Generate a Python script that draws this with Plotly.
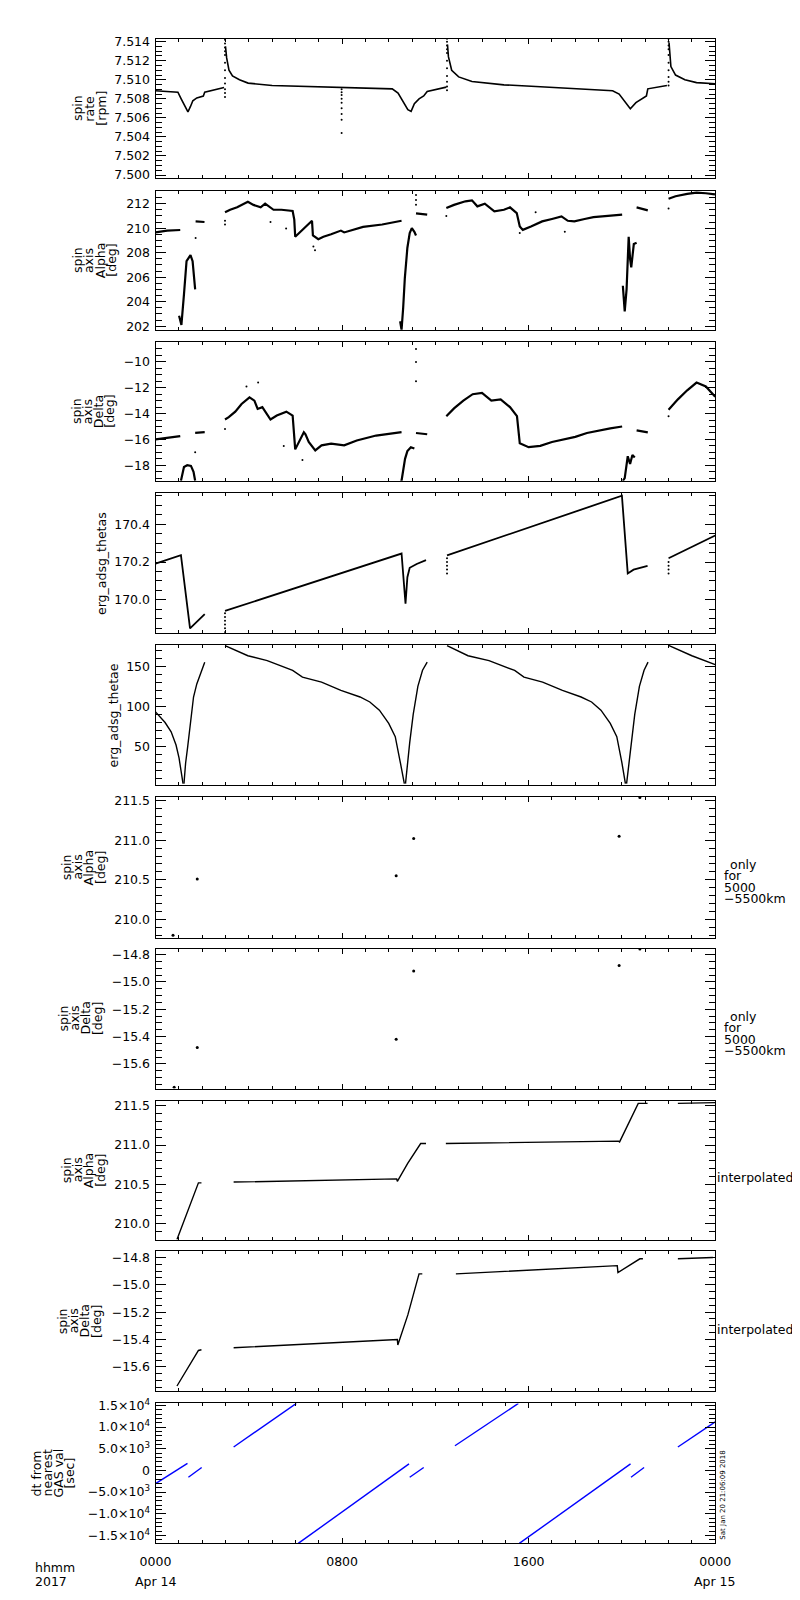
import plotly.graph_objects as go

# ---------------- data (hours since 2017-04-14 00:00 UT) ----------------
# Panel 1: spin rate [rpm]
rate_hours = [
    [0, 0.96, 1.1, 1.25, 1.39, 1.5, 1.6, 1.77, 2.05, 2.11, 2.5, 2.94],
    [3.0, 3.05, 3.15, 3.3, 3.6, 3.97, 5.0, 6.5, 8.0, 9.5, 10.15, 10.4, 10.6, 10.82, 10.96, 11.1, 11.3, 11.5, 11.65, 12.0, 12.47],
    [12.52, 12.56, 12.7, 13.0, 13.57, 14.94, 16.31, 17.69, 19.0, 19.6, 19.88, 20.1, 20.36, 20.6, 20.97, 21.05, 21.11, 21.5, 21.93],
    [22.02, 22.1, 22.3, 22.7, 23.2, 24.0],
]
rate_values = [
    [7.50885, 7.5087, 7.5080, 7.5072, 7.50662, 7.5072, 7.5078, 7.5081, 7.5083, 7.5087, 7.5089, 7.50919],
    [7.5135, 7.5123, 7.5110, 7.5104, 7.5100, 7.50965, 7.5094, 7.50932, 7.5092, 7.50912, 7.50905, 7.5086, 7.5078, 7.50686, 7.50668, 7.5075, 7.5080, 7.5083, 7.50878, 7.5090, 7.50923],
    [7.5137, 7.51243, 7.5110, 7.5103, 7.50982, 7.50947, 7.5093, 7.50912, 7.5090, 7.50885, 7.5085, 7.5078, 7.50696, 7.5076, 7.50815, 7.5083, 7.50905, 7.5092, 7.5094],
    [7.5139, 7.51139, 7.5105, 7.5100, 7.5097, 7.50958],
]
rate_dot_hours = [2.98] * 12 + [7.98] * 9 + [12.5] * 11 + [22.0] * 10
rate_dot_values = [7.5142, 7.5138, 7.5134, 7.5130, 7.5126, 7.5118, 7.5110, 7.5102, 7.5096, 7.5090, 7.5086, 7.5082,
                   7.5090, 7.5087, 7.5084, 7.5080, 7.5076, 7.5070, 7.5064, 7.5058, 7.50442,
                   7.5143, 7.5140, 7.5136, 7.5132, 7.5128, 7.5120, 7.5112, 7.5104, 7.5098, 7.5093, 7.5089,
                   7.5143, 7.5140, 7.5136, 7.5132, 7.5126, 7.5118, 7.5110, 7.5103, 7.5098, 7.5094]

# Panel 2: spin axis alpha [deg]
alpha_hours = [
    [0, 0.5, 1.06],
    [1.01, 1.11, 1.22, 1.33, 1.5, 1.59, 1.7],
    [1.72, 2.1],
    [2.98, 3.2, 3.5, 3.96, 4.2, 4.51, 4.7, 5.06, 5.4, 5.88, 5.95, 5.99, 6.71, 6.75, 6.98, 7.2, 7.53, 7.95, 8.09, 8.5, 8.9, 9.72, 10.55],
    [10.49, 10.55, 10.62, 10.69, 10.8, 10.9, 10.99, 11.1, 11.17],
    [11.17, 11.65],
    [12.47, 12.8, 13.29, 13.57, 13.8, 14.12, 14.53, 14.94, 15.2, 15.49, 15.62, 15.75, 16.1, 16.58, 17.0, 17.41, 17.68, 17.96, 18.4, 18.78, 19.4, 20.01],
    [20.04, 20.12, 20.2, 20.29, 20.35, 20.4, 20.51, 20.63],
    [20.63, 21.11],
    [22.0, 22.3, 22.8, 23.2, 23.6, 23.99],
]
alpha_values = [
    [209.65, 209.8, 209.85],
    [202.85, 202.1, 204.6, 207.3, 207.8, 207.3, 205.0],
    [210.55, 210.5],
    [211.3, 211.5, 211.7, 212.15, 211.9, 211.7, 212.0, 211.5, 211.5, 211.4, 210.7, 209.3, 210.6, 209.4, 209.1, 209.3, 209.5, 209.8, 209.65, 209.9, 210.1, 210.3, 210.6],
    [202.4, 201.7, 203.5, 205.9, 208.4, 209.6, 210.0, 209.7, 209.4],
    [211.2, 211.1],
    [211.64, 211.9, 212.19, 212.27, 211.78, 212.0, 211.37, 211.5, 211.7, 211.23, 210.14, 209.86, 210.14, 210.55, 210.75, 210.96, 210.6, 210.55, 210.75, 210.9, 211.0, 211.1],
    [205.3, 203.2, 205.0, 209.3, 207.5, 206.8, 208.7, 208.8],
    [211.7, 211.45],
    [212.4, 212.6, 212.8, 212.9, 212.85, 212.75],
]
alpha_dot_hours = [1.72, 2.98, 2.98, 4.93, 5.6, 6.77, 6.84, 11.17, 11.17, 11.17, 12.47, 15.62, 16.3, 17.55, 22.0]
alpha_dot_values = [209.2, 210.3, 210.6, 210.5, 209.97, 208.5, 208.2, 211.9, 212.3, 212.7, 211.0, 209.6, 211.3, 209.7, 211.6]

# Panel 3: spin axis delta [deg]
delta_hours = [
    [0, 1.06],
    [1.09, 1.22, 1.36, 1.52, 1.63, 1.7],
    [1.7, 2.11],
    [2.98, 3.14, 3.42, 3.69, 4.03, 4.24, 4.38, 4.58, 4.93, 5.2, 5.61, 5.88, 5.99, 6.36, 6.43, 6.57, 6.85, 7.12, 7.53, 8.09, 8.63, 9.46, 10.55],
    [10.5, 10.55, 10.7, 10.8, 10.95, 11.1],
    [11.17, 11.65],
    [12.47, 12.8, 13.2, 13.6, 14.0, 14.4, 14.8, 15.2, 15.5, 15.62, 16.0, 16.5, 17.0, 17.5, 18.0, 18.5, 19.0, 19.5, 20.01],
    [20.04, 20.12, 20.25, 20.35, 20.45, 20.55],
    [20.63, 21.11],
    [22.0, 22.4, 22.8, 23.2, 23.6, 24.0],
]
delta_values = [
    [-16.0, -15.74],
    [-19.2, -18.13, -18.0, -18.05, -18.5, -19.2],
    [-15.49, -15.44],
    [-14.46, -14.28, -13.85, -13.26, -12.74, -13.0, -13.64, -13.5, -14.46, -14.15, -13.85, -14.15, -16.77, -15.44, -15.6, -16.2, -16.85, -16.46, -16.33, -16.46, -16.08, -15.7, -15.44],
    [-19.2, -19.2, -17.5, -16.9, -16.6, -16.7],
    [-15.5, -15.6],
    [-14.2, -13.6, -13.0, -12.5, -12.4, -13.0, -12.9, -13.5, -14.2, -16.3, -16.6, -16.5, -16.2, -16.0, -15.8, -15.5, -15.3, -15.15, -15.0],
    [-19.2, -19.0, -17.3, -17.9, -17.2, -17.4],
    [-15.3, -15.45],
    [-13.7, -12.9, -12.2, -11.6, -11.9, -12.7],
]
delta_dot_hours = [1.7, 2.98, 3.9, 4.4, 5.5, 6.3, 11.17, 11.17, 11.17, 22.0]
delta_dot_values = [-17.0, -15.2, -11.9, -11.6, -16.5, -17.6, -9.0, -10.0, -11.5, -14.2]

# Panel 4: erg_adsg_thetas
thetas_hours = [
    [0, 1.09, 1.48, 2.11],
    [2.98, 10.55, 10.72, 10.8, 10.9, 11.2, 11.6],
    [12.5, 20.0, 20.25, 20.5, 21.1],
    [22.0, 24.0],
]
thetas_values = [
    [170.192, 170.236, 169.85, 169.925],
    [169.942, 170.245, 169.98, 170.12, 170.17, 170.19, 170.21],
    [170.235, 170.55, 170.14, 170.16, 170.18],
    [170.22, 170.34],
]
thetas_dot_hours = [2.98] * 6 + [12.5] * 5 + [22.0] * 4
thetas_dot_values = [169.93, 169.91, 169.89, 169.87, 169.85, 169.83,
                     170.22, 170.2, 170.18, 170.16, 170.14,
                     170.2, 170.18, 170.16, 170.14]

# Panel 5: erg_adsg_thetae
thetae_hours = [
    [0, 0.41, 0.67, 0.88, 1.01, 1.08, 1.18],
    [1.22, 1.29, 1.38, 1.49, 1.63, 1.77, 1.98, 2.11],
    [2.98, 3.96, 4.79, 5.33, 5.88, 6.3, 7.12, 7.95, 8.77, 9.19, 9.6, 10.0, 10.28, 10.49, 10.67],
    [10.72, 10.8, 10.9, 11.05, 11.25, 11.45, 11.65],
    [12.5, 13.4, 14.3, 14.85, 15.4, 15.8, 16.6, 17.45, 18.25, 18.7, 19.1, 19.5, 19.78, 19.99, 20.15],
    [20.2, 20.3, 20.4, 20.55, 20.75, 20.95, 21.12],
    [22.0, 23.0, 24.0],
]
thetae_values = [
    [93.2, 80, 68.5, 52, 35.6, 21, 3.9],
    [4, 29.4, 50, 78.8, 111.7, 128, 144.7, 155],
    [175.5, 163, 157, 150.8, 144.7, 136.4, 130.2, 120, 111.7, 105.5, 95.3, 78.8, 62.3, 31.5, 3.9],
    [4, 30, 55, 90, 125, 145, 155],
    [175.5, 163, 157, 150.8, 144.7, 136.4, 130.2, 120, 111.7, 105.5, 95.3, 78.8, 62.3, 31.5, 3.9],
    [4, 30, 55, 90, 125, 145, 155],
    [176, 163, 152],
]

# Panels 6/7: only for 5000-5500 km
alt_alpha_hours = [0.75, 1.79, 10.32, 11.07, 19.88, 20.77]
alt_alpha_values = [209.8, 210.51, 210.55, 211.02, 211.05, 211.54]
alt_delta_hours = [0.8, 1.79, 10.32, 11.07, 19.88, 20.77]
alt_delta_values = [-15.77, -15.48, -15.42, -14.92, -14.88, -14.76]

# Panels 8/9: interpolated
interp_alpha_hours = [
    [0.92, 1.84, 1.97],
    [3.35, 10.34, 10.37, 10.82, 11.37, 11.6],
    [12.45, 19.85, 19.9, 20.7, 21.1],
    [22.4, 24.0],
]
interp_alpha_values = [
    [209.8, 210.52, 210.52],
    [210.53, 210.57, 210.54, 210.77, 211.02, 211.02],
    [211.02, 211.05, 211.04, 211.53, 211.53],
    [211.53, 211.54],
]
interp_delta_hours = [
    [0.92, 1.84, 1.97],
    [3.35, 10.37, 10.39, 10.82, 11.3, 11.44],
    [12.88, 19.8, 19.83, 20.77, 20.9],
    [22.4, 23.9],
]
interp_delta_values = [
    [-15.74, -15.48, -15.475],
    [-15.46, -15.40, -15.44, -15.22, -14.92, -14.92],
    [-14.92, -14.86, -14.91, -14.81, -14.81],
    [-14.81, -14.80],
]

# Panel 10: dt from nearest GAS value [sec]
dt_hours = [[0, 1.37], [1.41, 1.98], [3.35, 6.04], [6.12, 10.87], [10.9, 11.5],
            [12.84, 15.56], [15.6, 20.37], [20.39, 20.95], [22.4, 24.0]]
dt_values = [[-3060, 1640], [-1570, 670], [5400, 15460], [-16830, 1500], [-1570, 670],
             [5700, 15460], [-16830, 1500], [-1570, 670], [5400, 11200]]

x_tick_hours = [0, 8, 16, 24]
x_tick_text = ["0000", "0800", "1600", "0000"]
x_date_hours = [0, 24]
x_date_text = ["Apr 14", "Apr 15"]
dt_tick_vals = [-15000, -10000, -5000, 0, 5000, 10000, 15000]
dt_tick_text = ["−1.5×10<sup>4</sup>", "−1.0×10<sup>4</sup>", "−5.0×10<sup>3</sup>", "0",
                "5.0×10<sup>3</sup>", "1.0×10<sup>4</sup>", "1.5×10<sup>4</sup>"]

# ---------------- layout ----------------
FONT = "DejaVu Sans"
FS = 12.5
W, H = 800, 1600
XL, XR = 137, 720
PANELS = [(24, 164), (177, 317), (329, 469), (481, 622), (634, 775),
          (787, 929), (940, 1081), (1094, 1233), (1245, 1386), (1398, 1539)]

fig = go.Figure()


def axn(k):
    return ("x" if k == 1 else f"x{k}"), ("y" if k == 1 else f"y{k}")


def add_lines(k, hs_list, vs_list, width=1.2, color="black"):
    xa, ya = axn(k)
    for hs, vs in zip(hs_list, vs_list):
        fig.add_trace(go.Scatter(x=hs, y=vs, mode="lines", xaxis=xa, yaxis=ya,
                                 line=dict(color=color, width=width), hoverinfo="skip"))


def add_dots(k, hs, vs, size=2.5):
    xa, ya = axn(k)
    fig.add_trace(go.Scatter(x=hs, y=vs, mode="markers", xaxis=xa, yaxis=ya,
                             marker=dict(color="black", size=size, line=dict(width=0)),
                             hoverinfo="skip"))


add_lines(1, rate_hours, rate_values, width=1.6)
add_dots(1, rate_dot_hours, rate_dot_values, size=2)
add_lines(2, alpha_hours, alpha_values, width=2.2)
add_dots(2, alpha_dot_hours, alpha_dot_values, size=2)
add_lines(3, delta_hours, delta_values, width=2.2)
add_dots(3, delta_dot_hours, delta_dot_values, size=2)
add_lines(4, thetas_hours, thetas_values, width=1.8)
add_dots(4, thetas_dot_hours, thetas_dot_values, size=2)
add_lines(5, thetae_hours, thetae_values, width=1.4)
add_dots(6, alt_alpha_hours, alt_alpha_values, size=3)
add_dots(7, alt_delta_hours, alt_delta_values, size=3)
add_lines(8, interp_alpha_hours, interp_alpha_values, width=1.4)
add_lines(9, interp_delta_hours, interp_delta_values, width=1.4)
add_lines(10, dt_hours, dt_values, width=1.4, color="#0000ff")

y_specs = {
    1: dict(range=[7.4997, 7.5143], dtick=0.002, minor=0.0005, fmt=".3f"),
    2: dict(range=[201.7, 213.05], dtick=2, minor=0.5, fmt="d"),
    3: dict(range=[-19.2, -8.44], dtick=2, minor=0.5, fmt="d"),
    4: dict(range=[169.827, 170.566], dtick=0.2, minor=0.05, fmt=".1f"),
    5: dict(range=[2.7, 176.8], dtick=50, minor=10, fmt="d"),
    6: dict(range=[209.77, 211.55], dtick=0.5, minor=0.1, fmt=".1f"),
    7: dict(range=[-15.78, -14.756], dtick=0.2, minor=0.05, fmt=".1f"),
    8: dict(range=[209.80, 211.554], dtick=0.5, minor=0.1, fmt=".1f"),
    9: dict(range=[-15.78, -14.756], dtick=0.2, minor=0.05, fmt=".1f"),
    10: dict(range=[-16830, 15460], dtick=5000, minor=1000, fmt=None),
}

tickfont = dict(family=FONT, size=FS, color="black")
layout = dict(width=W, height=H, margin=dict(l=0, r=0, t=0, b=0),
              paper_bgcolor="white", plot_bgcolor="white", showlegend=False,
              font=dict(family=FONT, size=FS, color="black"))

for k, (top, bot) in enumerate(PANELS, start=1):
    xa, ya = axn(k)
    xkey = "xaxis" if k == 1 else f"xaxis{k}"
    ykey = "yaxis" if k == 1 else f"yaxis{k}"
    layout[xkey] = dict(
        domain=[XL / W, XR / W], anchor=ya, range=[0, 24],
        tickvals=x_tick_hours, ticktext=x_tick_text, showticklabels=(k == 10),
        ticks="inside", ticklen=5, tickwidth=1, tickcolor="black",
        minor=dict(ticks="inside", ticklen=3, dtick=1, tickcolor="black", showgrid=False),
        showline=True, linecolor="black", linewidth=1, mirror="ticks",
        showgrid=False, zeroline=False, tickfont=tickfont, ticklabelstandoff=7,
    )
    s = y_specs[k]
    yd = dict(
        domain=[1 - bot / H, 1 - top / H], anchor=xa, range=s["range"],
        dtick=s["dtick"], ticks="inside", ticklen=10, tickwidth=1, tickcolor="black",
        minor=dict(ticks="inside", ticklen=6, dtick=s["minor"], tickcolor="black", showgrid=False),
        showline=True, linecolor="black", linewidth=1, mirror="ticks",
        showgrid=False, zeroline=False, tickfont=tickfont, ticklabelstandoff=2,
    )
    if s["fmt"]:
        yd["tickformat"] = s["fmt"]
    if k == 10:
        yd.pop("dtick")
        yd["tickvals"] = dt_tick_vals
        yd["ticktext"] = dt_tick_text
    layout[ykey] = yd

fig.update_layout(**layout)

annots = []


def ann(x, y, text, angle=0, xanchor="center", size=FS, yanchor="middle", align="center"):
    annots.append(dict(x=x / W, y=1 - y / H, xref="paper", yref="paper", text=text,
                       showarrow=False, textangle=angle, xanchor=xanchor, yanchor=yanchor,
                       align=align, font=dict(family=FONT, size=size, color="black")))


# y-axis titles (rotated, one annotation per line)
titles = [
    (94, [56, 68, 80.5], ["spin", "rate", "[rpm]"]),
    (247, [56, 67.5, 79, 91], ["spin", "axis", "Alpha", "[deg]"]),
    (399, [54, 65.5, 77, 89], ["spin", "axis", "Delta", "[deg]"]),
    (858, [44, 55.5, 67, 79], ["spin", "axis", "Alpha", "[deg]"]),
    (1010, [41, 52.5, 64, 76], ["spin", "axis", "Delta", "[deg]"]),
    (1163, [44, 55.5, 67, 79], ["spin", "axis", "Alpha", "[deg]"]),
    (1315, [41, 52.5, 64, 76], ["spin", "axis", "Delta", "[deg]"]),
    (1468, [13, 24.5, 36, 47.5], ["dt from", "nearest", "GAS val", "[sec]"]),
]
for yc, xs, lines in titles:
    for x, t in zip(xs, lines):
        ann(x, yc, t, angle=-90)
ann(80, 552, "erg_adsg_thetas", angle=-90)
ann(93, 705, "erg_adsg_thetae", angle=-90)

# right-hand notes
for y0 in (855, 1008):
    ann(733, y0, "only", xanchor="left")
    ann(727, y0 + 11.7, "for", xanchor="left")
    ann(727, y0 + 23.4, "5000", xanchor="left")
    ann(727, y0 + 35.1, "−5500km", xanchor="left")
ann(720, 1171, "interpolated", xanchor="left")
ann(720, 1324, "interpolated", xanchor="left")

# time axis caption and date line (dates placed on the bottom time axis)
ann(9, 1563, "hhmm", xanchor="left")
ann(9, 1577, "2017", xanchor="left")
for hx, txt in zip(x_date_hours, x_date_text):
    annots.append(dict(x=hx, y=1 - 1577 / H, xref="x10", yref="paper", text=txt,
                       showarrow=False, xanchor="center", yanchor="middle",
                       font=dict(family=FONT, size=FS, color="black")))

# timestamp
ann(728, 1490, "Sat Jan 20 21:06:09 2018", angle=-90, size=7)

fig.update_layout(annotations=annots)
fig.write_html("out.html")
